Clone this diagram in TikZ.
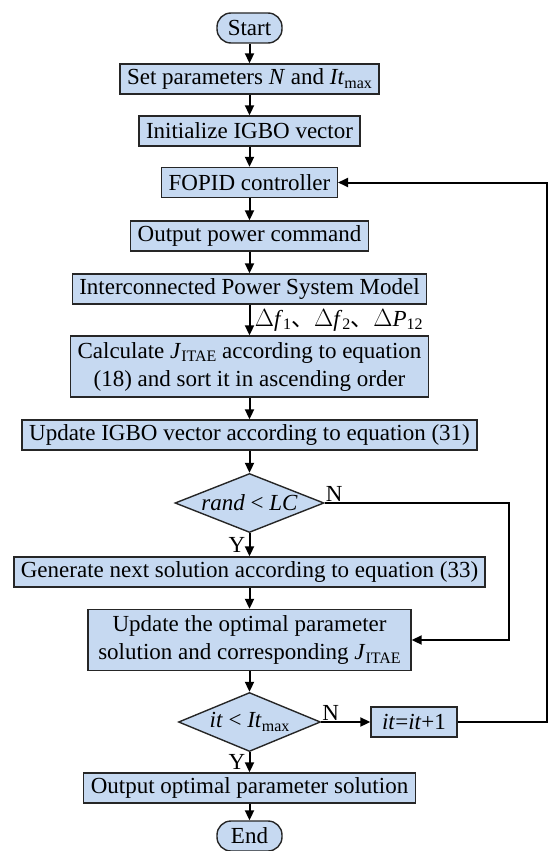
\documentclass[tikz,border=0pt]{standalone}
\usepackage{fontspec}
\setmainfont{Liberation Serif}
\newfontfamily\cjk{Noto Sans CJK SC}
\usetikzlibrary{arrows.meta,shapes.geometric}
\newcommand{\sbs}[1]{\raisebox{-0.35ex}{\fontsize{16}{16}\selectfont #1}}
\definecolor{boxblue}{HTML}{C6D9F1}
\tikzset{
  proc/.style={draw=black!85,fill=boxblue,line width=1.4pt,minimum height=30pt,inner xsep=7pt,inner ysep=2pt,align=center},
  term/.style={proc,rounded corners=14pt,minimum width=65pt},
  cond/.style={draw=black!85,fill=boxblue,line width=1.4pt,shape=diamond,aspect=2.5,inner sep=0pt},
  flow/.style={line width=2pt,-{Triangle[length=10pt,width=9pt]}}
}
\begin{document}
\begin{tikzpicture}[x=1pt,y=-1pt,font=\fontsize{23}{28}\selectfont]
\useasboundingbox (0,0) rectangle (548,851);
\path
  (249.5,28)  node[term] (start) {Start}
  (249.5,79)  node[proc] (setp) {Set parameters \textit{N} and \textit{It}\sbs{max}}
  (249.5,131) node[proc] (init) {Initialize IGBO vector}
  (249.5,182.5) node[proc] (fopid) {FOPID controller}
  (249.5,236) node[proc] (outp) {Output power command}
  (249.5,289) node[proc,minimum width=353pt] (model) {Interconnected Power System Model}
  (249.5,366.5) node[proc,minimum width=353pt,minimum height=61pt] (calc) {Calculate \textit{J}\sbs{ITAE} according to equation\\(18) and sort it in ascending order}
  (249.5,435) node[proc] (upd) {Update IGBO vector according to equation (31)}
  (249.5,503) node[cond,minimum width=149pt,minimum height=59pt] (lc) {\textit{rand} < \textit{LC}}
  (249.5,572) node[proc] (gen) {Generate next solution according to equation (33)}
  (249.5,640) node[proc,minimum width=323pt,minimum height=61pt] (opt) {Update the optimal parameter\\solution and corresponding \textit{J}\sbs{ITAE}}
  (249.5,722) node[cond,minimum width=142pt,minimum height=59pt] (itc) {\textit{it} < \textit{It}\sbs{max}}
  (414,722)   node[proc,minimum width=86pt] (inc) {\textit{it}=\textit{it}+1}
  (249.5,788) node[proc] (res) {Output optimal parameter solution}
  (249.5,836) node[term] (stop) {End};
\coordinate (rl) at (509,0);
\coordinate (rr) at (546.5,0);
% main line
\draw[flow] (start) -- (setp);
\draw[flow] (setp) -- (init);
\draw[flow] (init) -- (fopid);
\draw[flow] (fopid) -- (outp);
\draw[flow] (outp) -- (model);
\draw[flow] (model) -- (calc) node[pos=.5,anchor=west,xshift=1pt] (dlt) {$\Delta$\textit{f}\sbs{1}{\cjk 、}$\Delta$\textit{f}\sbs{2}{\cjk 、}$\Delta$\textit{P}\sbs{12}};
\draw[flow] (calc) -- (upd);
\draw[flow] (upd) -- (lc);
\draw[flow] (lc) -- (gen) node[pos=.5,left] (ly) {Y};
\draw[flow] (gen) -- (opt);
\draw[flow] (opt) -- (itc);
\draw[flow] (itc) -- (res) node[pos=.5,left] (ry) {Y};
\draw[flow] (res) -- (stop);
% branches
\draw[flow] (lc.east) -| (rl |- opt.east) -- (opt.east);
\node[anchor=south west,inner sep=1pt] (ln) at (lc.east) {N};
\draw[flow] (itc.east) -- (inc.west);
\node[anchor=south west,inner sep=1pt] (rn) at (itc.east) {N};
\draw[flow] (inc.east) -- (rr |- inc.east) |- (fopid.east);
\end{tikzpicture}
\end{document}
